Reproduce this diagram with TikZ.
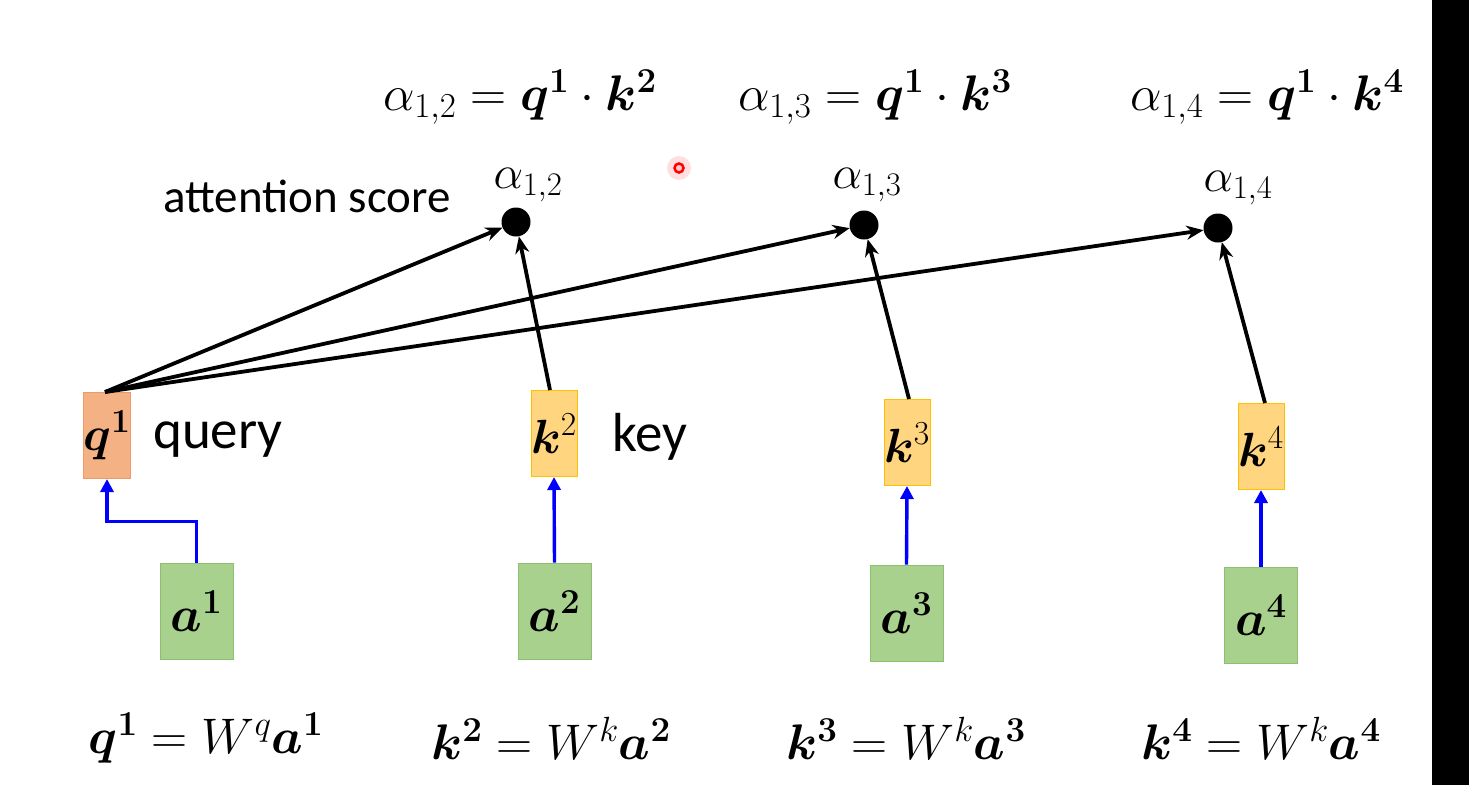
\RequirePackage{fix-cm}
\documentclass[tikz,border=0pt]{standalone}
\usepackage{fontspec}
\usepackage{amsmath,bm}
\usetikzlibrary{arrows.meta}
\newfontfamily\carlito{Carlito}
\definecolor{qfill}{HTML}{F4B183}
\definecolor{qdraw}{HTML}{EE9A6A}
\definecolor{kfill}{HTML}{FFD580}
\definecolor{kdraw}{HTML}{FFC000}
\definecolor{afill}{HTML}{A9D18E}
\definecolor{adraw}{HTML}{8CBF6E}
\begin{document}
\begin{tikzpicture}[x=1pt,y=-1pt,
  box/.style={line width=1pt, minimum width=46pt, minimum height=86pt, inner sep=0pt, font=\fontsize{48}{56}\selectfont},
  qbox/.style={box, fill=qfill, draw=qdraw},
  kbox/.style={box, fill=kfill, draw=kdraw},
  abox/.style={line width=1pt, fill=afill, draw=adraw, minimum width=73pt, minimum height=96pt, inner sep=0pt, font=\fontsize{50}{58}\selectfont},
  dot/.style={circle, fill=black, inner sep=0pt, minimum size=29pt},
  sarrow/.style={-{Stealth[length=17pt,width=14pt]}, line width=3.8pt},
  barrow/.style={-{Triangle[length=13pt,width=13pt]}, blue, line width=3.4pt},
  lbl/.style={font=\carlito\fontsize{47}{56}\selectfont, inner sep=0pt},
  lblb/.style={font=\carlito\fontsize{55}{64}\selectfont, inner sep=0pt},
  mth/.style={font=\fontsize{50}{58}\selectfont, inner sep=0pt},
  sm/.style={font=\fontsize{47}{54}\selectfont, inner sep=0pt},
]
\fill[white] (0,0) rectangle (1469,785);
\useasboundingbox (0,0) rectangle (1469,785);
\fill[black] (1432,0) rectangle (1469,785);

% red pointer
\fill[red, opacity=0.12] (679,168) circle (12);
\draw[red, line width=2.5pt, fill=red!20] (679,168) circle (4.5);

% top formulas
\node[mth] (f2) at (520,97) {$\alpha_{1,2} = \bm{q}^{\bm{1}}\cdot \bm{k}^{\bm{2}}$};
\node[mth] (f3) at (875,97) {$\alpha_{1,3} = \bm{q}^{\bm{1}}\cdot \bm{k}^{\bm{3}}$};
\node[mth] (f4) at (1267,97) {$\alpha_{1,4} = \bm{q}^{\bm{1}}\cdot \bm{k}^{\bm{4}}$};

% attention score
\node[lbl] (att) at (307,196) {attention score};
\node[sm] (l2) at (528,185) {$\alpha_{1,2}$};
\node[sm] (l3) at (867,185) {$\alpha_{1,3}$};
\node[sm] (l4) at (1238,188) {$\alpha_{1,4}$};

\node[dot] (d2) at (516,222) {};
\node[dot] (d3) at (864,225) {};
\node[dot] (d4) at (1218,228) {};

% q, k boxes
\node[qbox] (q1) at (107,435.5) {$\bm{q}^{\bm{1}}$};
\node[kbox] (k2) at (554,433.5) {$\bm{k}^{2}$};
\node[kbox] (k3) at (907,442.5) {$\bm{k}^{3}$};
\node[kbox] (k4) at (1261,446.5) {$\bm{k}^{4}$};
\node[lblb, anchor=west] (query) at (153,440) {query};
\node[lblb, anchor=west] (key) at (612,437) {key};

% a boxes
\node[abox] (a1) at (196.5,611) {$\bm{a}^{\bm{1}}$};
\node[abox] (a2) at (554.5,611) {$\bm{a}^{\bm{2}}$};
\node[abox] (a3) at (906.5,613) {$\bm{a}^{\bm{3}}$};
\node[abox] (a4) at (1261,615) {$\bm{a}^{\bm{4}}$};

% bottom formulas
\node[mth] (e1) at (206,738) {$\bm{q}^{\bm{1}} = W^{q}\bm{a}^{\bm{1}}$};
\node[mth] (e2) at (551,738) {$\bm{k}^{\bm{2}} = W^{k}\bm{a}^{\bm{2}}$};
\node[mth] (e3) at (906,738) {$\bm{k}^{\bm{3}} = W^{k}\bm{a}^{\bm{3}}$};
\node[mth] (e4) at (1261,738) {$\bm{k}^{\bm{4}} = W^{k}\bm{a}^{\bm{4}}$};

% blue arrows
\draw[barrow] (a1.north) -- ++(0,-41) -| (q1.south);
\draw[barrow] (a2.north) -- (k2.south);
\draw[barrow] (a3.north) -- (k3.south);
\draw[barrow] (a4.north) -- (k4.south);

% black arrows
\draw[sarrow] ([xshift=-2pt]q1.north) -- (d2);
\draw[sarrow] ([xshift=-2pt]q1.north) -- (d3);
\draw[sarrow] ([xshift=-2pt]q1.north) -- (d4);
\draw[sarrow] ([xshift=-4pt]k2.north) -- (d2);
\draw[sarrow] ([xshift=2pt]k3.north) -- (d3);
\draw[sarrow] ([xshift=4pt]k4.north) -- (d4);
\end{tikzpicture}
\end{document}
